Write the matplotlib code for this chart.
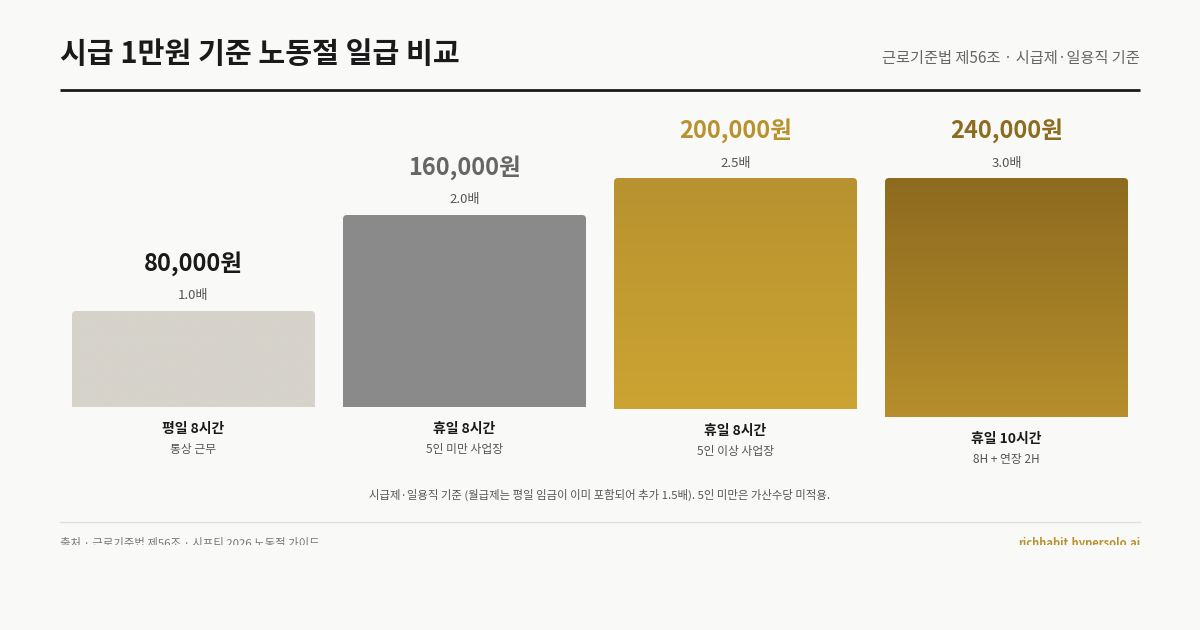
import matplotlib
matplotlib.use("Agg")
import numpy as np
import matplotlib.pyplot as plt
from matplotlib.path import Path
from matplotlib.patches import PathPatch, Rectangle

plt.rcParams['font.family'] = ['Noto Sans CJK KR', 'DejaVu Sans']

# data
categories = ["평일 8시간", "휴일 8시간", "휴일 8시간", "휴일 10시간"]
subtitles = ["통상 근무", "5인 미만 사업장", "5인 이상 사업장", "8H + 연장 2H"]
wages = [80000, 160000, 200000, 240000]
multipliers = [1.0, 2.0, 2.5, 3.0]

# styles
bg = "#F9F9F7"
bar_top = ["#D6D3CB", "#8A8A8A", "#B8922F", "#8D6B1F"]
bar_bot = ["#D6D3CB", "#8A8A8A", "#CCA433", "#B68E2C"]
value_colors = ["#1A1A1A", "#666666", "#B8922F", "#8D6B1F"]

# layout (pixels)
bar_x = [72, 343, 614, 885]
bar_w = 243
baselines = [407, 407, 409, 417]
top_limit = 178
px_per_won = 0.0012
radius = 4


def top_round_rect(x0, y_top, w, h, r):
    verts = [(x0, y_top + h), (x0, y_top + r), (x0, y_top), (x0 + r, y_top),
             (x0 + w - r, y_top), (x0 + w, y_top), (x0 + w, y_top + r),
             (x0 + w, y_top + h), (x0, y_top + h)]
    codes = [Path.MOVETO, Path.LINETO, Path.CURVE3, Path.CURVE3, Path.LINETO,
             Path.CURVE3, Path.CURVE3, Path.LINETO, Path.CLOSEPOLY]
    return Path(verts, codes)


def hex2rgb(c):
    c = c.lstrip("#")
    return np.array([int(c[i:i + 2], 16) / 255 for i in (0, 2, 4)])


fig = plt.figure(figsize=(12, 6.3), dpi=100, facecolor=bg)
ax = fig.add_axes([0, 0, 1, 1])
ax.set_xlim(0, 1200)
ax.set_ylim(630, 0)
ax.axis("off")
ax.set_facecolor(bg)

# header
ax.text(60, 54, "시급 1만원 기준 노동절 일급 비교", fontsize=21, fontweight="heavy",
        color="#1A1A1A", ha="left", va="center")
ax.text(1140, 59, "근로기준법 제56조 · 시급제·일용직 기준", fontsize=11,
        color="#666666", ha="right", va="center")
ax.plot([60, 1140], [90, 90], color="#1A1A1A", lw=2, solid_capstyle="butt")

for i in range(len(wages)):
    base = baselines[i]
    h = min(wages[i] * px_per_won, base - top_limit)
    top = base - h
    x0 = bar_x[i]
    cx = x0 + bar_w / 2
    path = top_round_rect(x0, top, bar_w, h, radius)
    patch = PathPatch(path, facecolor="none", edgecolor="none")
    ax.add_patch(patch)
    c1, c2 = hex2rgb(bar_top[i]), hex2rgb(bar_bot[i])
    t = np.linspace(0, 1, 200)[:, None, None]
    grad = c1[None, None, :] * (1 - t) + c2[None, None, :] * t
    im = ax.imshow(grad, extent=(x0, x0 + bar_w, base, top), origin="upper",
                   aspect="auto", interpolation="bilinear", zorder=2)
    im.set_clip_path(patch)

    ax.text(cx, top - 47, f"{wages[i]:,}원", fontsize=17, fontweight="bold",
            color=value_colors[i], ha="center", va="center")
    ax.text(cx, top - 15, f"{multipliers[i]:.1f}배", fontsize=9.5,
            color="#555555", ha="center", va="center")
    ax.text(cx, base + 22, categories[i], fontsize=10, fontweight="bold",
            color="#1A1A1A", ha="center", va="center")
    ax.text(cx, base + 42, subtitles[i], fontsize=8.5,
            color="#555555", ha="center", va="center")

ax.text(600, 495, "시급제·일용직 기준 (월급제는 평일 임금이 이미 포함되어 추가 1.5배). 5인 미만은 가산수당 미적용.",
        fontsize=8.2, color="#555555", ha="center", va="center")
ax.plot([60, 1140], [522, 522], color="#E2E0DA", lw=1)

ax.text(60, 543, "출처 · 근로기준법 제56조 · 시프티 2026 노동절 가이드", fontsize=8.2,
        color="#777777", ha="left", va="center")
ax.text(1140, 543, "richhabit.hypersolo.ai", fontsize=8, fontweight="bold",
        color="#B8922F", ha="right", va="center")
# footer is cut off in the original
ax.add_patch(Rectangle((0, 545), 1200, 85, facecolor=bg, edgecolor="none", zorder=5))

fig.savefig("out.png", dpi=100, facecolor=bg)
